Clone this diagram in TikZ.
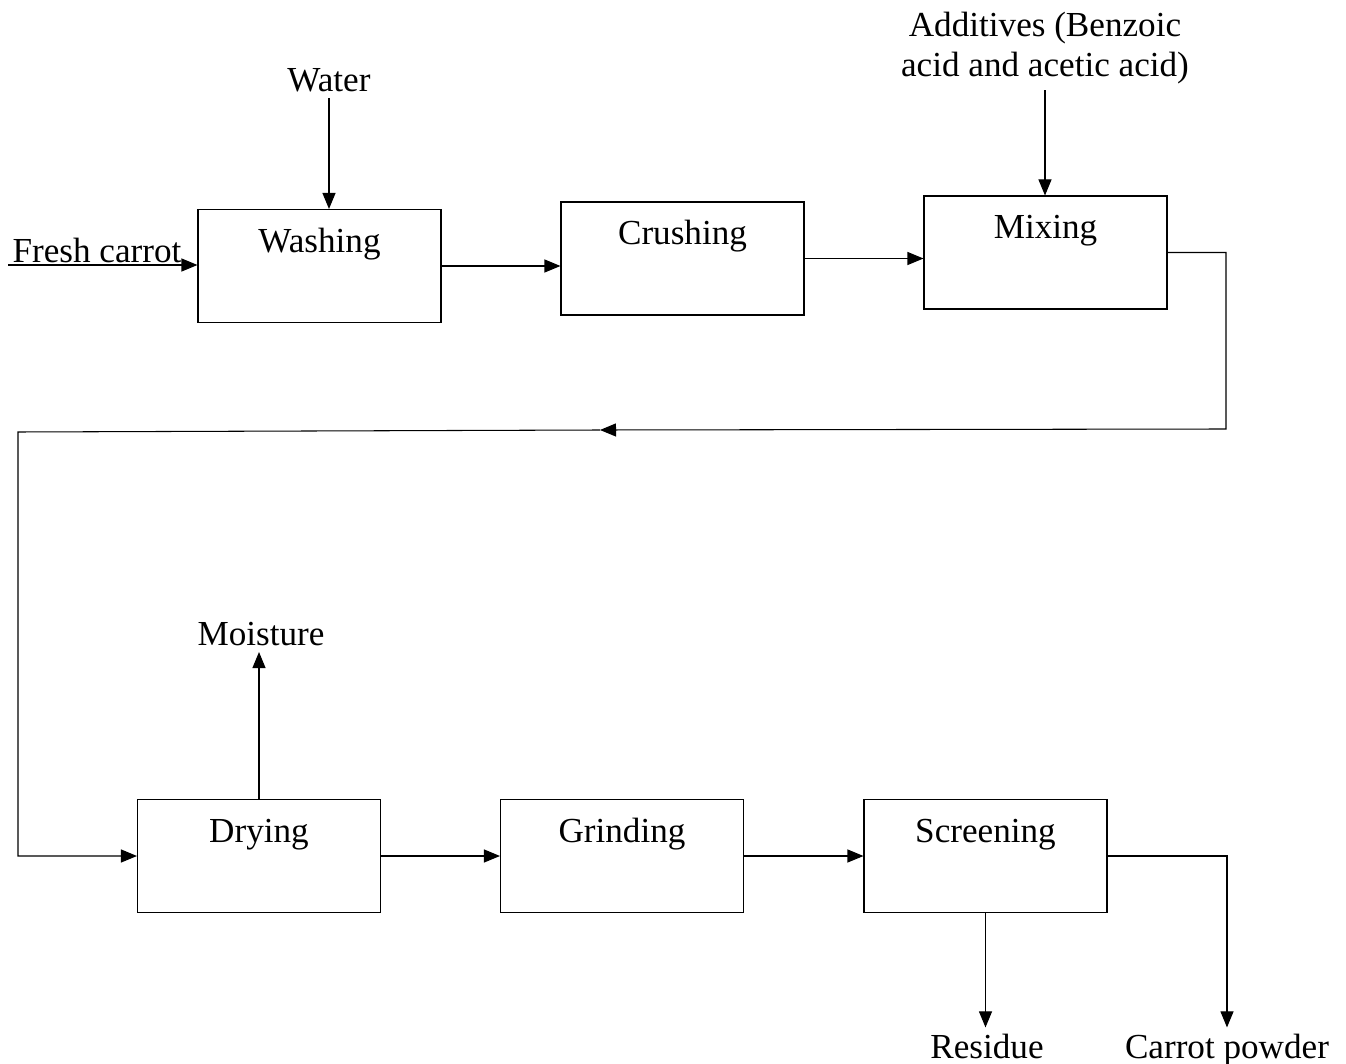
\documentclass[tikz,border=0pt]{standalone}
\usepackage{fontspec}
\setmainfont{Liberation Serif}
\usepackage{tikz}
\usetikzlibrary{arrows.meta}

\begin{document}
\begin{tikzpicture}[
        stage/.style = {draw, line width = 0.6pt, inner sep = 0pt,
            minimum width = 4.86cm, text height = 0.86cm, text depth = 1.4cm,
            font = \fontsize{20}{23}\selectfont},
        lbl/.style = {align = center, font = \fontsize{20}{22.7}\selectfont},
        flow/.style = {line width = 0.6pt, -{Triangle[length = 0.32cm, width = 0.26cm]}}
    ]
        \useasboundingbox (0, 0) rectangle (26.92, -21.28);

        \node[stage] (wash) at (6.39, -5.32) {Washing};
        \node[stage] (crush) at (13.65, -5.17) {Crushing};
        \node[stage] (mix) at (20.91, -5.05) {Mixing};
        \node[stage] (dry) at (5.18, -17.12) {Drying};
        \node[stage] (grind) at (12.44, -17.12) {Grinding};
        \node[stage] (screen) at (19.71, -17.12) {Screening};

        \node[lbl] (water) at (6.58, -1.6) {Water};
        \node[lbl] (additive) at (20.9, -0.96) {Additives (Benzoic\\acid and acetic acid)};
        \node[lbl, anchor = base] (fresh) at (1.94, -5.26) {Fresh carrot};
        \node[lbl] (moist) at (5.22, -12.68) {Moisture};
        \node[lbl, anchor = base] (residue) at (19.74, -21.16) {Residue};
        \node[lbl, anchor = base] (powder) at (24.54, -21.16) {Carrot powder};

        \coordinate (feed) at (0.16, -5.3);
        \coordinate (turn) at (24.52, -8.58);
        \coordinate (back) at (12, -8.6);
        \coordinate (drop) at (0.36, -8.64);

        \draw[flow] (feed) -- (feed -| wash.west);
        \draw[flow] (water.south) -- (water.south |- wash.north);
        \draw[flow] (additive.south) -- (additive.south |- mix.north);
        \draw[flow] (wash.east) -- (wash.east -| crush.west);
        \draw[flow] (crush.east) -- (crush.east -| mix.west);

        \draw[flow] (mix.east) -| (turn) -- (back);
        \draw[flow] (back) -- (drop) |- (dry.west);

        \draw[flow] (dry.north) -- (dry.north |- moist.south);
        \draw[flow] (dry.east) -- (grind.west);
        \draw[flow] (grind.east) -- (screen.west);
        \draw[flow] (screen.south) -- (screen.south |- residue.north);
        \draw[flow] (screen.east) -| (powder.north);
    \end{tikzpicture}
\end{document}
